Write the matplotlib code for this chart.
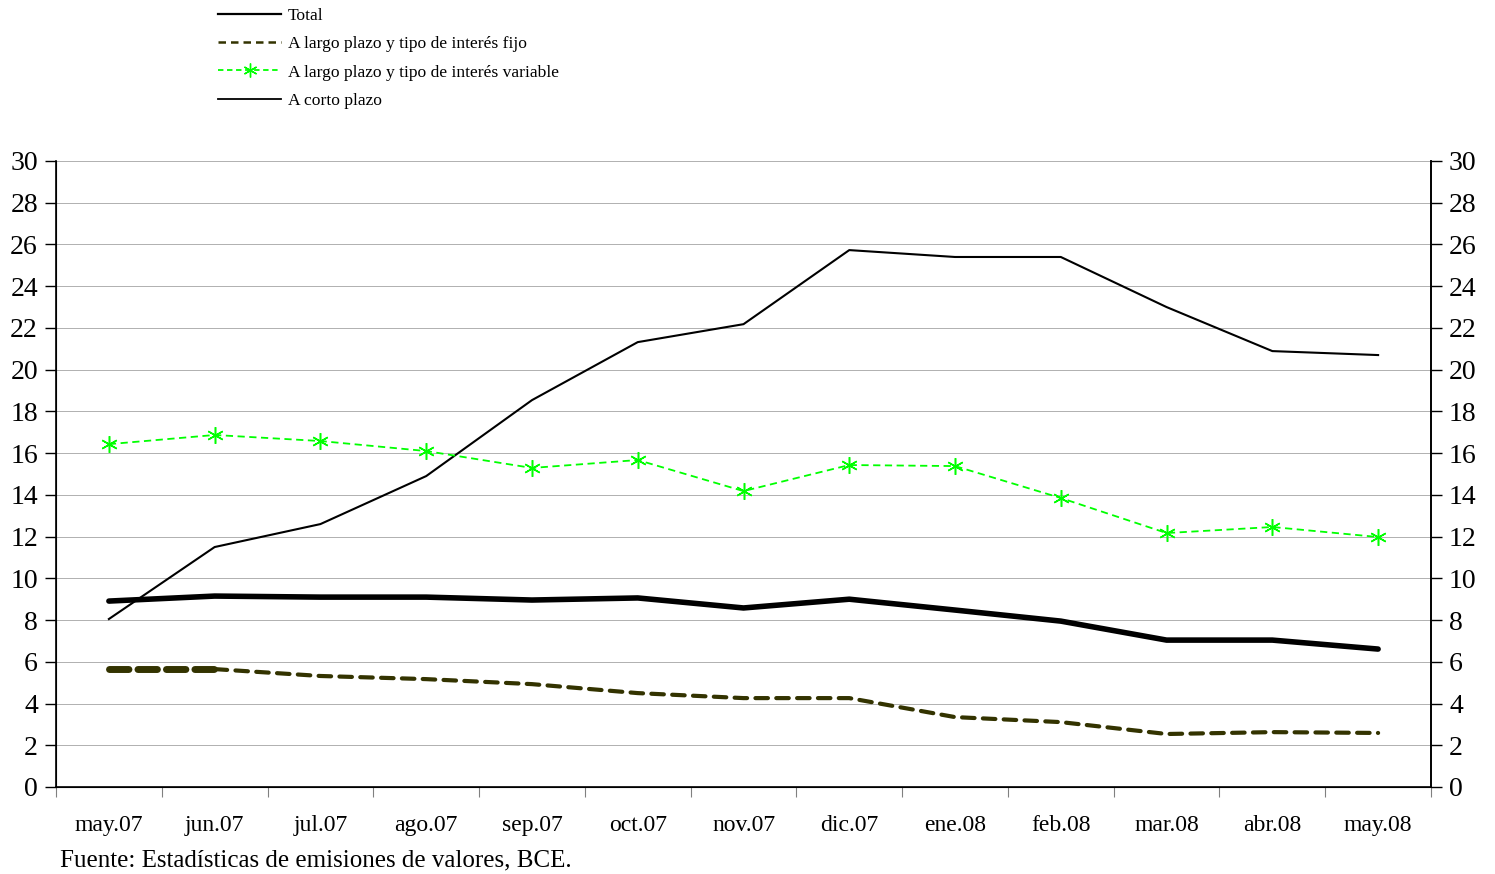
import matplotlib
matplotlib.use("Agg")
import matplotlib.pyplot as plt
from matplotlib.lines import Line2D
import numpy as np

plt.rcParams['font.family'] = ['Liberation Serif', 'DejaVu Serif']

meses = ['may.07', 'jun.07', 'jul.07', 'ago.07', 'sep.07', 'oct.07', 'nov.07',
         'dic.07', 'ene.08', 'feb.08', 'mar.08', 'abr.08', 'may.08']

total = [8.91, 9.15, 9.10, 9.10, 8.96, 9.06, 8.58, 9.00, 8.48, 7.95, 7.04, 7.04, 6.61]
largo_fijo = [5.65, 5.65, 5.32, 5.17, 4.93, 4.50, 4.26, 4.26, 3.35, 3.11, 2.54, 2.63, 2.59]
largo_variable = [16.43, 16.87, 16.58, 16.10, 15.29, 15.67, 14.18, 15.43, 15.38, 13.85,
                  12.17, 12.46, 11.98]
corto = [8.05, 11.50, 12.60, 14.90, 18.54, 21.32, 22.18, 25.73, 25.40, 25.40, 23.00,
         20.89, 20.70]

OLIVA = '#333300'
VERDE = '#00ff00'

fig = plt.figure(figsize=(14.95, 8.74), dpi=100)
ax = fig.add_axes([56 / 1495, 1 - 787 / 874, (1431 - 56) / 1495, (787 - 161) / 874])
x = np.arange(len(meses))

ax.plot(x, corto, color='black', lw=1.5, zorder=3)
ax.plot(x, largo_variable, color=VERDE, lw=1.3, ls=(0, (4, 2.5)), marker=(6, 2, 0),
        ms=12, mew=1.1, zorder=4)
# el primer tramo sale mas grueso en el original
ax.plot(x[:2], largo_fijo[:2], color=OLIVA, lw=5, ls=(0, (2.8, 1.3)),
        solid_capstyle='round', dash_capstyle='round', zorder=3)
ax.plot(x[1:], largo_fijo[1:], color=OLIVA, lw=3, ls=(0, (3, 2)),
        dash_capstyle='round', zorder=3)
ax.plot(x, total, color='black', lw=4, solid_capstyle='round', zorder=5)

ax.set_xlim(-0.5, len(meses) - 0.5)
ax.set_ylim(0, 30)
ax.set_yticks(range(0, 31, 2))
ax.yaxis.grid(True, color='#b0b0b0', lw=0.7)
ax.set_axisbelow(True)
ax.tick_params(axis='y', labelsize=20, length=8, width=1, direction='out', pad=5)

ax.set_xticks(np.arange(-0.5, len(meses), 1.0))
ax.set_xticklabels([])
ax.set_xticks(x, minor=True)
ax.set_xticklabels(meses, minor=True)
ax.tick_params(axis='x', which='major', length=7, width=0.8, color='#808080', direction='out')
ax.tick_params(axis='x', which='minor', length=0, labelsize=17, pad=20)

ax.spines['top'].set_visible(False)
for s in ['left', 'right', 'bottom']:
    ax.spines[s].set_linewidth(1.2)

ax2 = ax.twinx()
ax2.set_ylim(0, 30)
ax2.set_yticks(range(0, 31, 2))
ax2.tick_params(axis='y', labelsize=20, length=8, width=1, direction='out', pad=5)
ax2.spines['top'].set_visible(False)
ax2.spines['right'].set_linewidth(1.2)

handles = [
    Line2D([], [], color='black', lw=1.6),
    Line2D([], [], color=OLIVA, lw=1.8, ls=(0, (3, 2))),
    Line2D([], [], color=VERDE, lw=1.3, ls=(0, (3, 2)), marker=(6, 2, 0), ms=10, markevery=[1]),
    Line2D([], [], color='black', lw=1.3),
]
labels = ['Total', 'A largo plazo y tipo de interés fijo',
          'A largo plazo y tipo de interés variable', 'A corto plazo']
fig.legend(handles, labels, loc='upper left', bbox_to_anchor=(218 / 1495, 1 - 8 / 874),
           frameon=False, fontsize=12.6, handlelength=3.6, handletextpad=0.4,
           labelspacing=0.68, borderpad=0, borderaxespad=0)

fig.text(60 / 1495, 1 - 860 / 874, 'Fuente: Estadísticas de emisiones de valores, BCE.',
         fontsize=18, ha='left', va='center')

fig.savefig('out.png', dpi=100)
